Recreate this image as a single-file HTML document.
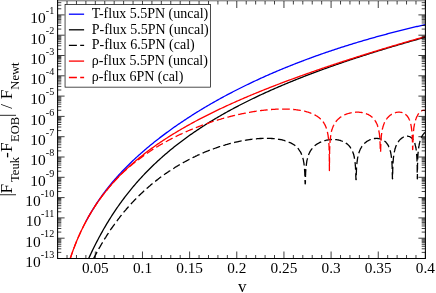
<!DOCTYPE html>
<html><head><meta charset="utf-8"><title>flux</title>
<style>html,body{margin:0;padding:0;background:#fff;width:436px;height:293px;overflow:hidden}</style></head>
<body>
<svg width="436" height="293" viewBox="0 0 436 293" style="position:absolute;left:0;top:0;will-change:transform;opacity:0.999;font-family:'Liberation Serif',serif">
<rect width="436" height="293" fill="#fff"/>
<defs><clipPath id="c"><rect x="57.60" y="1.00" width="367.80" height="257.50"/></clipPath></defs>
<g clip-path="url(#c)" fill="none" stroke-width="1.3" stroke-linejoin="round">
<path d="M86.00,221.35 L87.00,219.50 L88.00,217.69 L89.00,215.92 L90.00,214.19 L91.00,212.49 L92.00,210.82 L93.00,209.19 L94.00,207.58 L95.00,206.00 L96.00,204.45 L97.00,202.92 L98.00,201.42 L99.00,199.94 L100.00,198.48 L101.00,197.05 L102.00,195.63 L103.00,194.24 L104.00,192.87 L105.00,191.52 L106.00,190.20 L107.00,188.89 L108.00,187.61 L109.00,186.36 L110.00,185.13 L111.00,183.91 L112.00,182.72 L113.00,181.54 L114.00,180.38 L115.00,179.23 L116.00,178.09 L117.00,176.97 L118.00,175.86 L119.00,174.77 L120.00,173.68 L121.00,172.61 L122.00,171.55 L123.00,170.51 L124.00,169.47 L125.00,168.44 L126.00,167.43 L127.00,166.42 L128.00,165.43 L129.00,164.44 L130.00,163.46 L131.00,162.50 L132.00,161.54 L133.00,160.59 L134.00,159.65 L135.00,158.71 L136.00,157.79 L137.00,156.87 L138.00,155.96 L139.00,155.06 L140.00,154.17 L141.00,153.28 L142.00,152.40 L143.00,151.53 L144.00,150.66 L145.00,149.80 L146.00,148.95 L147.00,148.10 L148.00,147.26 L149.00,146.43 L150.00,145.60 L151.00,144.78 L152.00,143.96 L153.00,143.16 L154.00,142.35 L155.00,141.55 L156.00,140.76 L157.00,139.97 L158.00,139.19 L159.00,138.41 L160.00,137.64 L161.00,136.88 L162.00,136.11 L163.00,135.36 L164.00,134.61 L165.00,133.86 L166.00,133.12 L167.00,132.38 L168.00,131.65 L169.00,130.92 L170.00,130.19 L171.00,129.47 L172.00,128.76 L173.00,128.05 L174.00,127.34 L175.00,126.64 L176.00,125.94 L177.00,125.25 L178.00,124.56 L179.00,123.87 L180.00,123.19 L181.00,122.51 L182.00,121.84 L183.00,121.17 L184.00,120.50 L185.00,119.84 L186.00,119.18 L187.00,118.52 L188.00,117.87 L189.00,117.22 L190.00,116.58 L191.00,115.94 L192.00,115.30 L193.00,114.67 L194.00,114.03 L195.00,113.41 L196.00,112.78 L197.00,112.16 L198.00,111.55 L199.00,110.93 L200.00,110.32 L201.00,109.71 L202.00,109.11 L203.00,108.51 L204.00,107.91 L205.00,107.31 L206.00,106.72 L207.00,106.13 L208.00,105.54 L209.00,104.96 L210.00,104.38 L211.00,103.80 L212.00,103.23 L213.00,102.66 L214.00,102.09 L215.00,101.52 L216.00,100.96 L217.00,100.40 L218.00,99.84 L219.00,99.29 L220.00,98.73 L221.00,98.18 L222.00,97.64 L223.00,97.09 L224.00,96.55 L225.00,96.01 L226.00,95.48 L227.00,94.94 L228.00,94.41 L229.00,93.88 L230.00,93.36 L231.00,92.83 L232.00,92.31 L233.00,91.79 L234.00,91.28 L235.00,90.76 L236.00,90.25 L237.00,89.74 L238.00,89.24 L239.00,88.73 L240.00,88.23 L241.00,87.73 L242.00,87.23 L243.00,86.74 L244.00,86.24 L245.00,85.75 L246.00,85.27 L247.00,84.78 L248.00,84.30 L249.00,83.81 L250.00,83.34 L251.00,82.86 L252.00,82.38 L253.00,81.91 L254.00,81.44 L255.00,80.97 L256.00,80.51 L257.00,80.04 L258.00,79.58 L259.00,79.12 L260.00,78.66 L261.00,78.21 L262.00,77.75 L263.00,77.30 L264.00,76.85 L265.00,76.40 L266.00,75.96 L267.00,75.51 L268.00,75.07 L269.00,74.63 L270.00,74.19 L271.00,73.76 L272.00,73.32 L273.00,72.89 L274.00,72.46 L275.00,72.03 L276.00,71.61 L277.00,71.18 L278.00,70.76 L279.00,70.34 L280.00,69.92 L281.00,69.50 L282.00,69.09 L283.00,68.67 L284.00,68.26 L285.00,67.85 L286.00,67.44 L287.00,67.04 L288.00,66.63 L289.00,66.23 L290.00,65.83 L291.00,65.43 L292.00,65.03 L293.00,64.63 L294.00,64.24 L295.00,63.85 L296.00,63.46 L297.00,63.07 L298.00,62.68 L299.00,62.29 L300.00,61.91 L301.00,61.53 L302.00,61.14 L303.00,60.77 L304.00,60.39 L305.00,60.01 L306.00,59.64 L307.00,59.26 L308.00,58.89 L309.00,58.52 L310.00,58.16 L311.00,57.79 L312.00,57.42 L313.00,57.06 L314.00,56.70 L315.00,56.34 L316.00,55.98 L317.00,55.62 L318.00,55.27 L319.00,54.91 L320.00,54.56 L321.00,54.21 L322.00,53.86 L323.00,53.51 L324.00,53.16 L325.00,52.82 L326.00,52.47 L327.00,52.13 L328.00,51.79 L329.00,51.45 L330.00,51.11 L331.00,50.77 L332.00,50.44 L333.00,50.11 L334.00,49.77 L335.00,49.44 L336.00,49.11 L337.00,48.78 L338.00,48.46 L339.00,48.13 L340.00,47.81 L341.00,47.48 L342.00,47.16 L343.00,46.84 L344.00,46.52 L345.00,46.21 L346.00,45.89 L347.00,45.57 L348.00,45.26 L349.00,44.95 L350.00,44.64 L351.00,44.33 L352.00,44.02 L353.00,43.71 L354.00,43.41 L355.00,43.10 L356.00,42.80 L357.00,42.50 L358.00,42.20 L359.00,41.90 L360.00,41.60 L361.00,41.30 L362.00,41.01 L363.00,40.71 L364.00,40.42 L365.00,40.13 L366.00,39.83 L367.00,39.54 L368.00,39.26 L369.00,38.97 L370.00,38.68 L371.00,38.40 L372.00,38.11 L373.00,37.83 L374.00,37.55 L375.00,37.27 L376.00,36.99 L377.00,36.71 L378.00,36.44 L379.00,36.16 L380.00,35.89 L381.00,35.61 L382.00,35.34 L383.00,35.07 L384.00,34.80 L385.00,34.53 L386.00,34.26 L387.00,34.00 L388.00,33.73 L389.00,33.47 L390.00,33.20 L391.00,32.94 L392.00,32.68 L393.00,32.42 L394.00,32.16 L395.00,31.90 L396.00,31.65 L397.00,31.39 L398.00,31.14 L399.00,30.88 L400.00,30.63 L401.00,30.38 L402.00,30.13 L403.00,29.88 L404.00,29.63 L405.00,29.38 L406.00,29.14 L407.00,28.89 L408.00,28.65 L409.00,28.41 L410.00,28.16 L411.00,27.92 L412.00,27.68 L413.00,27.44 L414.00,27.21 L415.00,26.97 L416.00,26.73 L417.00,26.50 L418.00,26.26 L419.00,26.03 L420.00,25.80 L421.00,25.57 L422.00,25.34 L423.00,25.11 L424.00,24.88 L425.00,24.65" stroke="#0000ff"/>
<path d="M60.00,329.16 L61.00,327.75 L62.00,325.95 L63.00,323.85 L64.00,321.55 L65.00,319.09 L66.00,316.51 L67.00,313.86 L68.00,311.15 L69.00,308.41 L70.00,305.65 L71.00,302.89 L72.00,300.14 L73.00,297.40 L74.00,294.67 L75.00,291.98 L76.00,289.31 L77.00,286.67 L78.00,284.06 L79.00,281.49 L80.00,278.95 L81.00,276.46 L82.00,273.99 L83.00,271.57 L84.00,269.18 L85.00,266.83 L86.00,264.51 L87.00,262.23 L88.00,259.99 L89.00,257.79 L90.00,255.61 L91.00,253.48 L92.00,251.37 L93.00,249.30 L94.00,247.27 L95.00,245.26 L96.00,243.29 L97.00,241.34 L98.00,239.43 L99.00,237.54 L100.00,235.69 L101.00,233.86 L102.00,232.06 L103.00,230.28 L104.00,228.53 L105.00,226.81 L106.00,225.11 L107.00,223.44 L108.00,221.79 L109.00,220.16 L110.00,218.56 L111.00,216.98 L112.00,215.42 L113.00,213.88 L114.00,212.37 L115.00,210.87 L116.00,209.39 L117.00,207.93 L118.00,206.50 L119.00,205.08 L120.00,203.67 L121.00,202.29 L122.00,200.92 L123.00,199.57 L124.00,198.24 L125.00,196.93 L126.00,195.63 L127.00,194.34 L128.00,193.07 L129.00,191.82 L130.00,190.58 L131.00,189.35 L132.00,188.14 L133.00,186.95 L134.00,185.76 L135.00,184.59 L136.00,183.44 L137.00,182.29 L138.00,181.16 L139.00,180.04 L140.00,178.93 L141.00,177.84 L142.00,176.75 L143.00,175.68 L144.00,174.62 L145.00,173.57 L146.00,172.53 L147.00,171.50 L148.00,170.48 L149.00,169.47 L150.00,168.48 L151.00,167.49 L152.00,166.51 L153.00,165.54 L154.00,164.58 L155.00,163.63 L156.00,162.69 L157.00,161.75 L158.00,160.83 L159.00,159.91 L160.00,159.01 L161.00,158.11 L162.00,157.22 L163.00,156.33 L164.00,155.46 L165.00,154.59 L166.00,153.73 L167.00,152.88 L168.00,152.03 L169.00,151.20 L170.00,150.37 L171.00,149.54 L172.00,148.73 L173.00,147.92 L174.00,147.11 L175.00,146.32 L176.00,145.53 L177.00,144.74 L178.00,143.96 L179.00,143.19 L180.00,142.43 L181.00,141.67 L182.00,140.92 L183.00,140.17 L184.00,139.43 L185.00,138.69 L186.00,137.96 L187.00,137.24 L188.00,136.52 L189.00,135.80 L190.00,135.09 L191.00,134.39 L192.00,133.69 L193.00,133.00 L194.00,132.31 L195.00,131.63 L196.00,130.95 L197.00,130.27 L198.00,129.60 L199.00,128.94 L200.00,128.28 L201.00,127.62 L202.00,126.97 L203.00,126.32 L204.00,125.68 L205.00,125.04 L206.00,124.41 L207.00,123.78 L208.00,123.15 L209.00,122.53 L210.00,121.92 L211.00,121.30 L212.00,120.69 L213.00,120.09 L214.00,119.48 L215.00,118.89 L216.00,118.29 L217.00,117.70 L218.00,117.11 L219.00,116.53 L220.00,115.95 L221.00,115.37 L222.00,114.80 L223.00,114.23 L224.00,113.66 L225.00,113.10 L226.00,112.54 L227.00,111.98 L228.00,111.43 L229.00,110.88 L230.00,110.33 L231.00,109.79 L232.00,109.25 L233.00,108.71 L234.00,108.17 L235.00,107.64 L236.00,107.11 L237.00,106.59 L238.00,106.06 L239.00,105.54 L240.00,105.02 L241.00,104.51 L242.00,104.00 L243.00,103.49 L244.00,102.98 L245.00,102.48 L246.00,101.97 L247.00,101.47 L248.00,100.98 L249.00,100.48 L250.00,99.99 L251.00,99.50 L252.00,99.02 L253.00,98.53 L254.00,98.05 L255.00,97.57 L256.00,97.09 L257.00,96.62 L258.00,96.14 L259.00,95.67 L260.00,95.21 L261.00,94.74 L262.00,94.28 L263.00,93.81 L264.00,93.35 L265.00,92.90 L266.00,92.44 L267.00,91.99 L268.00,91.54 L269.00,91.09 L270.00,90.64 L271.00,90.20 L272.00,89.75 L273.00,89.31 L274.00,88.87 L275.00,88.44 L276.00,88.00 L277.00,87.57 L278.00,87.13 L279.00,86.70 L280.00,86.28 L281.00,85.85 L282.00,85.43 L283.00,85.00 L284.00,84.58 L285.00,84.16 L286.00,83.75 L287.00,83.33 L288.00,82.92 L289.00,82.50 L290.00,82.09 L291.00,81.68 L292.00,81.28 L293.00,80.87 L294.00,80.47 L295.00,80.06 L296.00,79.66 L297.00,79.26 L298.00,78.86 L299.00,78.47 L300.00,78.07 L301.00,77.68 L302.00,77.29 L303.00,76.90 L304.00,76.51 L305.00,76.12 L306.00,75.73 L307.00,75.35 L308.00,74.97 L309.00,74.58 L310.00,74.20 L311.00,73.82 L312.00,73.45 L313.00,73.07 L314.00,72.69 L315.00,72.32 L316.00,71.95 L317.00,71.58 L318.00,71.21 L319.00,70.84 L320.00,70.47 L321.00,70.10 L322.00,69.74 L323.00,69.38 L324.00,69.01 L325.00,68.65 L326.00,68.29 L327.00,67.93 L328.00,67.57 L329.00,67.22 L330.00,66.86 L331.00,66.51 L332.00,66.15 L333.00,65.80 L334.00,65.45 L335.00,65.10 L336.00,64.75 L337.00,64.41 L338.00,64.06 L339.00,63.71 L340.00,63.37 L341.00,63.03 L342.00,62.68 L343.00,62.34 L344.00,62.00 L345.00,61.66 L346.00,61.33 L347.00,60.99 L348.00,60.65 L349.00,60.32 L350.00,59.98 L351.00,59.65 L352.00,59.32 L353.00,58.99 L354.00,58.66 L355.00,58.33 L356.00,58.00 L357.00,57.67 L358.00,57.34 L359.00,57.02 L360.00,56.69 L361.00,56.37 L362.00,56.05 L363.00,55.73 L364.00,55.40 L365.00,55.08 L366.00,54.77 L367.00,54.45 L368.00,54.13 L369.00,53.81 L370.00,53.50 L371.00,53.18 L372.00,52.87 L373.00,52.55 L374.00,52.24 L375.00,51.93 L376.00,51.62 L377.00,51.31 L378.00,51.00 L379.00,50.69 L380.00,50.38 L381.00,50.08 L382.00,49.77 L383.00,49.46 L384.00,49.16 L385.00,48.85 L386.00,48.55 L387.00,48.25 L388.00,47.95 L389.00,47.65 L390.00,47.35 L391.00,47.05 L392.00,46.75 L393.00,46.45 L394.00,46.15 L395.00,45.86 L396.00,45.56 L397.00,45.26 L398.00,44.97 L399.00,44.68 L400.00,44.38 L401.00,44.09 L402.00,43.80 L403.00,43.51 L404.00,43.22 L405.00,42.93 L406.00,42.64 L407.00,42.35 L408.00,42.06 L409.00,41.77 L410.00,41.49 L411.00,41.20 L412.00,40.92 L413.00,40.63 L414.00,40.35 L415.00,40.06 L416.00,39.78 L417.00,39.50 L418.00,39.22 L419.00,38.93 L420.00,38.65 L421.00,38.37 L422.00,38.09 L423.00,37.82 L424.00,37.54 L425.00,37.26" stroke="#000"/>
<path d="M93.7,258.5 94.0,257.7 94.5,257.0 94.8,256.2 95.2,255.4 95.7,254.7 96.0,253.9 96.5,253.2 96.8,252.4 97.1,252.0M98.7,249.0 99.2,248.2 99.6,247.4 100.1,246.6 100.5,245.9 100.9,245.1 101.4,244.3 101.8,243.6 102.3,242.8 102.6,242.4M104.3,239.4 104.8,238.7 105.2,238.0 105.7,237.3 106.2,236.5 106.7,235.7 107.2,234.9 107.7,234.1 108.2,233.4 108.4,233.0M110.3,230.2 110.8,229.4 111.3,228.7 111.8,228.0 112.3,227.3 112.8,226.6 113.3,225.9 113.9,225.1 114.4,224.3 114.7,223.9M116.8,221.1 117.4,220.3 117.9,219.6 118.5,218.8 119.1,218.1 119.6,217.4 120.2,216.6 120.8,215.9 121.4,215.2 121.5,215.0M123.6,212.4 124.2,211.7 124.9,210.9 125.6,210.1 126.2,209.3 126.9,208.5 127.6,207.8 128.2,207.0 128.6,206.6M130.9,204.1 131.6,203.3 132.2,202.6 132.9,201.9 133.6,201.2 134.2,200.5 134.9,199.8 135.6,199.1 136.2,198.5M138.6,196.1 139.2,195.5 139.9,194.8 140.6,194.2 141.2,193.5 141.9,192.9 142.6,192.3 143.2,191.7 143.9,191.0 144.2,190.8M146.7,188.6 147.3,188.0 148.0,187.4 148.7,186.8 149.3,186.2 150.0,185.7 150.7,185.1 151.3,184.6 152.0,184.0 152.5,183.6M155.2,181.4 155.8,180.9 156.5,180.4 157.2,179.9 157.8,179.4 158.5,178.8 159.2,178.3 159.8,177.8 160.5,177.3 161.2,176.8 161.2,176.8M164.0,174.8 164.7,174.3 165.3,173.8 166.0,173.4 166.7,172.9 167.3,172.5 168.0,172.0 168.7,171.6 169.3,171.1 170.0,170.7 170.3,170.5M173.2,168.6 173.9,168.2 174.6,167.7 175.2,167.3 175.9,166.9 176.6,166.5 177.2,166.1 177.9,165.7 178.6,165.3 179.2,164.9 179.8,164.6M182.8,162.9 183.4,162.5 184.1,162.2 184.8,161.8 185.4,161.4 186.1,161.1 186.8,160.7 187.4,160.4 188.1,160.0 188.8,159.7 189.4,159.3 189.5,159.3M192.5,157.7 193.2,157.4 193.8,157.1 194.5,156.8 195.2,156.5 195.8,156.1 196.5,155.8 197.2,155.5 197.8,155.2 198.5,154.9 199.2,154.6 199.5,154.4M202.6,153.1 203.2,152.8 203.9,152.5 204.6,152.2 205.2,152.0 205.9,151.7 206.6,151.4 207.2,151.1 207.9,150.9 208.6,150.6 209.2,150.4 209.8,150.2M212.8,149.0 213.5,148.8 214.2,148.5 214.8,148.3 215.5,148.0 216.2,147.8 216.8,147.6 217.5,147.4 218.2,147.1 218.8,146.9 219.5,146.7 220.2,146.5M223.3,145.5 224.0,145.3 224.7,145.1 225.3,144.9 226.0,144.7 226.7,144.5 227.3,144.3 228.0,144.1 228.7,143.9 229.3,143.7 230.0,143.6 230.7,143.4 230.8,143.4M234.1,142.5 234.8,142.4 235.4,142.2 236.1,142.1 236.8,141.9 237.4,141.8 238.1,141.6 238.8,141.5 239.4,141.3 240.1,141.2 240.8,141.1 241.4,140.9 241.6,140.9M244.9,140.3 245.6,140.2 246.2,140.1 246.9,140.0 247.6,139.9 248.2,139.8 248.9,139.7 249.6,139.6 250.2,139.5 250.9,139.4 251.6,139.3 252.2,139.2 252.5,139.2M255.9,138.8 256.6,138.8 257.2,138.7 257.9,138.7 258.6,138.6 259.2,138.6 259.9,138.5 260.6,138.5 261.2,138.5 261.9,138.4 262.6,138.4 263.2,138.4 263.6,138.4M266.9,138.3 267.6,138.3 268.2,138.4 268.9,138.4 269.6,138.4 270.2,138.4 270.9,138.4 271.6,138.5 272.2,138.5 272.9,138.6 273.6,138.6 274.2,138.7 274.7,138.7M278.0,139.1 278.7,139.3 279.3,139.4 280.0,139.5 280.7,139.6 281.3,139.7 282.0,139.9 282.7,140.0 283.3,140.2 284.0,140.4 284.7,140.6 285.3,140.8 285.5,140.8M288.7,142.0 289.3,142.3 290.0,142.6 290.7,142.9 291.3,143.2 292.0,143.6 292.7,144.0 293.3,144.4 294.0,144.8 294.7,145.3 295.3,145.8M297.8,148.1 298.4,148.8 298.9,149.6 299.4,150.3 299.9,151.1 300.4,151.8 300.8,152.6 301.2,153.4 301.5,154.2 301.7,154.7M302.8,157.8 303.0,158.6 303.2,159.3 303.4,160.1 303.5,160.8 303.6,161.6 303.8,162.4 303.9,163.2 304.0,163.9 304.1,164.7 304.2,165.5M304.5,168.8 304.6,169.6 304.6,170.4 304.7,171.2 304.7,172.0 304.8,172.8 304.8,173.6 304.8,174.4 304.9,175.2 304.9,176.0 304.9,176.5M305.0,179.9 305.0,180.7 305.0,181.4 305.1,182.2 305.1,183.0 305.1,183.8 305.2,183.8 305.2,183.8 305.2,183.8 305.3,183.8 305.3,183.4 305.4,182.6 305.4,181.8 305.4,181.0 305.4,180.2M305.5,176.9 305.5,176.2 305.5,175.4 305.6,174.6 305.6,173.8 305.6,173.0 305.7,172.2 305.7,171.4 305.8,170.6 305.8,169.8 305.9,169.2M306.2,165.9 306.3,165.1 306.4,164.4 306.5,163.6 306.6,162.9 306.7,162.1 306.8,161.4 306.9,160.6 307.1,159.9 307.3,159.2 307.5,158.4 307.5,158.2M308.5,155.0 308.8,154.2 309.1,153.5 309.5,152.7 309.9,151.9 310.3,151.1 310.8,150.4 311.3,149.6 311.9,148.9 312.3,148.3M314.7,145.9 315.3,145.3 316.0,144.8 316.7,144.3 317.3,143.9 318.0,143.5 318.7,143.1 319.3,142.7 320.0,142.4 320.7,142.1 321.2,141.9M324.3,140.7 325.0,140.6 325.7,140.4 326.3,140.2 327.0,140.1 327.7,140.0 328.3,139.8 329.0,139.8 329.7,139.7 330.3,139.6 331.0,139.6 331.7,139.5 331.9,139.5M335.2,139.6 335.9,139.6 336.6,139.7 337.2,139.8 337.9,139.9 338.6,140.0 339.2,140.2 339.9,140.4 340.6,140.5 341.2,140.8 341.9,141.0 342.6,141.3 342.8,141.3M345.8,142.9 346.4,143.4 347.1,143.9 347.8,144.5 348.4,145.1 349.1,145.8 349.7,146.5 350.3,147.3 350.8,148.1 351.0,148.4M352.5,151.4 352.8,152.1 353.1,152.9 353.3,153.6 353.6,154.3 353.8,155.0 354.0,155.8 354.1,156.5 354.3,157.3 354.4,158.1 354.6,158.8M355.0,162.2 355.1,162.9 355.2,163.7 355.3,164.5 355.3,165.3 355.4,166.1 355.5,166.9 355.5,167.6 355.5,168.4 355.6,169.2 355.6,169.8M355.8,173.2 355.8,174.0 355.8,174.8 355.8,175.6 355.8,176.4 355.9,177.2 355.9,178.0 355.9,178.8 355.9,179.5 356.0,179.6 356.0,179.6 356.1,179.6 356.1,179.6 356.2,179.4 356.2,178.6 356.2,178.5M356.3,175.2 356.3,174.4 356.3,173.6 356.3,172.8 356.4,172.0 356.4,171.2 356.4,170.4 356.5,169.7 356.5,168.9 356.5,168.2 356.6,167.5M356.8,164.1 356.9,163.4 357.0,162.6 357.1,161.9 357.2,161.1 357.3,160.4 357.4,159.6 357.5,158.9 357.6,158.2 357.7,157.5 357.9,156.7 357.9,156.5M358.8,153.2 359.0,152.5 359.3,151.7 359.6,150.9 359.9,150.1 360.3,149.3 360.6,148.6 361.1,147.8 361.5,147.1 362.0,146.3 362.1,146.2M364.2,143.6 364.9,143.0 365.6,142.4 366.2,141.9 366.9,141.4 367.6,141.0 368.2,140.6 368.9,140.3 369.6,139.9 370.2,139.7 370.7,139.5M373.9,138.6 374.6,138.5 375.2,138.5 375.9,138.4 376.6,138.4 377.2,138.4 377.9,138.5 378.6,138.6 379.2,138.7 379.9,138.8 380.6,139.0 381.2,139.2 381.5,139.3M384.4,141.0 385.1,141.5 385.8,142.1 386.4,142.8 387.0,143.6 387.5,144.3 387.9,145.0 388.4,145.7 388.7,146.5 389.0,147.1M390.1,150.2 390.3,151.0 390.5,151.7 390.7,152.5 390.8,153.3 391.0,154.1 391.1,154.8 391.2,155.5 391.3,156.3 391.4,157.1 391.5,157.8M391.8,161.1 391.9,161.9 391.9,162.7 392.0,163.5 392.0,164.3 392.1,165.1 392.1,165.9 392.1,166.7 392.2,167.5 392.2,168.3 392.2,168.9M392.3,172.2 392.3,173.0 392.3,173.8 392.3,174.6 392.4,175.4 392.4,176.2 392.4,177.0 392.4,177.8 392.4,178.6 392.5,178.8 392.5,178.8 392.5,178.8 392.5,178.8 392.6,178.3 392.6,177.9M392.6,174.5 392.6,173.7 392.7,172.9 392.7,172.1 392.7,171.3 392.7,170.5 392.7,169.8 392.8,169.0 392.8,168.3 392.8,167.5 392.8,166.8M393.0,163.4 393.0,162.6 393.1,161.8 393.2,161.1 393.2,160.3 393.3,159.6 393.3,158.8 393.4,158.1 393.5,157.4 393.6,156.6 393.7,155.8 393.7,155.7M394.2,152.4 394.4,151.6 394.6,150.9 394.8,150.1 394.9,149.3 395.2,148.6 395.4,147.8 395.7,147.1 395.9,146.3 396.2,145.6 396.5,145.1M398.1,142.1 398.6,141.4 399.1,140.6 399.8,139.9 400.4,139.3 401.1,138.7 401.8,138.1 402.4,137.7 403.1,137.3 403.8,136.9M407.0,136.2 407.7,136.2 408.3,136.3 409.0,136.5 409.7,136.7 410.3,137.0 411.0,137.5 411.7,138.0 412.3,138.7 412.9,139.5 413.2,140.0M414.7,143.0 414.9,143.8 415.1,144.5 415.3,145.3 415.5,146.1 415.7,146.8 415.8,147.5 416.0,148.3 416.1,149.0 416.2,149.8 416.3,150.5M416.6,153.9 416.7,154.7 416.7,155.5 416.8,156.2 416.8,157.0 416.9,157.8 416.9,158.6 417.0,159.4 417.0,160.2 417.0,160.9 417.0,161.6M417.1,165.0 417.2,165.8 417.2,166.6 417.2,167.4 417.2,168.2 417.2,169.0 417.2,169.8 417.2,170.5 417.2,171.3 417.2,172.1 417.3,172.7M417.3,176.1 417.3,176.8 417.3,177.6 417.3,178.4 417.3,178.8 417.3,178.8 417.4,178.8 417.4,178.1 417.4,177.3 417.4,176.5 417.4,175.7 417.4,174.9 417.4,174.1 417.4,173.9M417.4,170.6 417.4,169.8 417.5,169.0 417.5,168.2 417.5,167.4 417.5,166.7 417.5,166.0 417.5,165.2 417.5,164.4 417.6,163.7 417.6,162.9 417.6,162.8M417.7,159.5 417.7,158.7 417.8,158.0 417.8,157.2 417.8,156.5 417.9,155.7 417.9,154.9 418.0,154.2 418.0,153.5 418.1,152.8 418.2,152.0 418.2,151.7M418.6,148.4 418.7,147.7 418.8,146.9 418.9,146.1 419.1,145.4 419.2,144.6 419.4,143.8 419.5,143.1 419.7,142.4 419.9,141.6 420.1,140.9M421.3,137.7 421.6,136.9 422.1,136.2 422.5,135.4 423.0,134.6 423.6,133.9 424.2,133.1 424.9,132.6 425.0,132.5" stroke="#000"/>
<path d="M60.00,297.51 L61.00,292.80 L62.00,288.33 L63.00,284.09 L64.00,280.05 L65.00,276.19 L66.00,272.51 L67.00,268.98 L68.00,265.60 L69.00,262.36 L70.00,259.25 L71.00,256.25 L72.00,253.36 L73.00,250.58 L74.00,247.89 L75.00,245.29 L76.00,242.78 L77.00,240.34 L78.00,237.98 L79.00,235.69 L80.00,233.47 L81.00,231.31 L82.00,229.21 L83.00,227.17 L84.00,225.18 L85.00,223.24 L86.00,221.35 L87.00,219.51 L88.00,217.71 L89.00,215.95 L90.00,214.23 L91.00,212.56 L92.00,210.91 L93.00,209.31 L94.00,207.73 L95.00,206.19 L96.00,204.68 L97.00,203.20 L98.00,201.75 L99.00,200.33 L100.00,198.93 L101.00,197.56 L102.00,196.21 L103.00,194.89 L104.00,193.59 L105.00,192.31 L106.00,191.05 L107.00,189.81 L108.00,188.60 L109.00,187.40 L110.00,186.22 L111.00,185.06 L112.00,183.91 L113.00,182.79 L114.00,181.68 L115.00,180.58 L116.00,179.50 L117.00,178.44 L118.00,177.39 L119.00,176.35 L120.00,175.33 L121.00,174.32 L122.00,173.33 L123.00,172.35 L124.00,171.38 L125.00,170.42 L126.00,169.47 L127.00,168.54 L128.00,167.61 L129.00,166.70 L130.00,165.79 L131.00,164.90 L132.00,164.02 L133.00,163.14 L134.00,162.28 L135.00,161.43 L136.00,160.58 L137.00,159.74 L138.00,158.92 L139.00,158.10 L140.00,157.28 L141.00,156.48 L142.00,155.69 L143.00,154.90 L144.00,154.12 L145.00,153.34 L146.00,152.58 L147.00,151.82 L148.00,151.07 L149.00,150.32 L150.00,149.58 L151.00,148.85 L152.00,148.13 L153.00,147.41 L154.00,146.69 L155.00,145.99 L156.00,145.29 L157.00,144.59 L158.00,143.90 L159.00,143.22 L160.00,142.54 L161.00,141.86 L162.00,141.19 L163.00,140.53 L164.00,139.87 L165.00,139.22 L166.00,138.57 L167.00,137.93 L168.00,137.29 L169.00,136.65 L170.00,136.02 L171.00,135.40 L172.00,134.78 L173.00,134.16 L174.00,133.55 L175.00,132.94 L176.00,132.33 L177.00,131.73 L178.00,131.14 L179.00,130.54 L180.00,129.96 L181.00,129.37 L182.00,128.79 L183.00,128.21 L184.00,127.64 L185.00,127.07 L186.00,126.50 L187.00,125.94 L188.00,125.37 L189.00,124.82 L190.00,124.26 L191.00,123.71 L192.00,123.17 L193.00,122.62 L194.00,122.08 L195.00,121.54 L196.00,121.01 L197.00,120.47 L198.00,119.94 L199.00,119.42 L200.00,118.89 L201.00,118.37 L202.00,117.86 L203.00,117.34 L204.00,116.83 L205.00,116.32 L206.00,115.81 L207.00,115.30 L208.00,114.80 L209.00,114.30 L210.00,113.80 L211.00,113.31 L212.00,112.82 L213.00,112.32 L214.00,111.84 L215.00,111.35 L216.00,110.87 L217.00,110.39 L218.00,109.91 L219.00,109.43 L220.00,108.96 L221.00,108.48 L222.00,108.01 L223.00,107.54 L224.00,107.08 L225.00,106.61 L226.00,106.15 L227.00,105.69 L228.00,105.23 L229.00,104.77 L230.00,104.32 L231.00,103.87 L232.00,103.42 L233.00,102.97 L234.00,102.52 L235.00,102.07 L236.00,101.63 L237.00,101.19 L238.00,100.75 L239.00,100.31 L240.00,99.87 L241.00,99.44 L242.00,99.01 L243.00,98.57 L244.00,98.14 L245.00,97.72 L246.00,97.29 L247.00,96.86 L248.00,96.44 L249.00,96.02 L250.00,95.60 L251.00,95.18 L252.00,94.76 L253.00,94.34 L254.00,93.93 L255.00,93.52 L256.00,93.10 L257.00,92.69 L258.00,92.28 L259.00,91.88 L260.00,91.47 L261.00,91.06 L262.00,90.66 L263.00,90.26 L264.00,89.86 L265.00,89.46 L266.00,89.06 L267.00,88.66 L268.00,88.27 L269.00,87.87 L270.00,87.48 L271.00,87.09 L272.00,86.70 L273.00,86.31 L274.00,85.92 L275.00,85.53 L276.00,85.15 L277.00,84.76 L278.00,84.38 L279.00,83.99 L280.00,83.61 L281.00,83.23 L282.00,82.85 L283.00,82.47 L284.00,82.10 L285.00,81.72 L286.00,81.35 L287.00,80.97 L288.00,80.60 L289.00,80.23 L290.00,79.86 L291.00,79.49 L292.00,79.12 L293.00,78.75 L294.00,78.39 L295.00,78.02 L296.00,77.65 L297.00,77.29 L298.00,76.93 L299.00,76.57 L300.00,76.21 L301.00,75.85 L302.00,75.49 L303.00,75.13 L304.00,74.77 L305.00,74.42 L306.00,74.06 L307.00,73.71 L308.00,73.35 L309.00,73.00 L310.00,72.65 L311.00,72.30 L312.00,71.95 L313.00,71.60 L314.00,71.25 L315.00,70.90 L316.00,70.56 L317.00,70.21 L318.00,69.86 L319.00,69.52 L320.00,69.18 L321.00,68.83 L322.00,68.49 L323.00,68.15 L324.00,67.81 L325.00,67.47 L326.00,67.13 L327.00,66.80 L328.00,66.46 L329.00,66.12 L330.00,65.79 L331.00,65.45 L332.00,65.12 L333.00,64.78 L334.00,64.45 L335.00,64.12 L336.00,63.79 L337.00,63.46 L338.00,63.13 L339.00,62.80 L340.00,62.47 L341.00,62.14 L342.00,61.81 L343.00,61.49 L344.00,61.16 L345.00,60.84 L346.00,60.51 L347.00,60.19 L348.00,59.87 L349.00,59.54 L350.00,59.22 L351.00,58.90 L352.00,58.58 L353.00,58.26 L354.00,57.94 L355.00,57.62 L356.00,57.30 L357.00,56.99 L358.00,56.67 L359.00,56.35 L360.00,56.04 L361.00,55.72 L362.00,55.41 L363.00,55.10 L364.00,54.78 L365.00,54.47 L366.00,54.16 L367.00,53.85 L368.00,53.54 L369.00,53.23 L370.00,52.92 L371.00,52.61 L372.00,52.30 L373.00,51.99 L374.00,51.68 L375.00,51.38 L376.00,51.07 L377.00,50.76 L378.00,50.46 L379.00,50.15 L380.00,49.85 L381.00,49.55 L382.00,49.24 L383.00,48.94 L384.00,48.64 L385.00,48.34 L386.00,48.03 L387.00,47.73 L388.00,47.43 L389.00,47.13 L390.00,46.84 L391.00,46.54 L392.00,46.24 L393.00,45.94 L394.00,45.64 L395.00,45.35 L396.00,45.05 L397.00,44.76 L398.00,44.46 L399.00,44.17 L400.00,43.87 L401.00,43.58 L402.00,43.28 L403.00,42.99 L404.00,42.70 L405.00,42.41 L406.00,42.12 L407.00,41.82 L408.00,41.53 L409.00,41.24 L410.00,40.95 L411.00,40.66 L412.00,40.38 L413.00,40.09 L414.00,39.80 L415.00,39.51 L416.00,39.23 L417.00,38.94 L418.00,38.65 L419.00,38.37 L420.00,38.08 L421.00,37.80 L422.00,37.51 L423.00,37.23 L424.00,36.94 L425.00,36.66" stroke="#ff0000"/>
<path d="M70.2,258.5 70.5,257.7 70.8,256.9 71.0,256.2 71.3,255.4 71.6,254.6 71.8,253.8 72.1,253.1 72.4,252.3 72.6,251.6M73.8,248.4 74.1,247.6 74.4,246.9 74.7,246.1 75.0,245.3 75.3,244.5 75.6,243.7 75.9,243.0 76.2,242.2 76.5,241.5 76.7,241.2M78.0,238.1 78.3,237.3 78.6,236.5 79.0,235.8 79.3,235.0 79.6,234.3 80.0,233.6 80.3,232.8 80.7,232.0 81.0,231.2 81.1,231.1M82.6,228.0 83.0,227.3 83.3,226.5 83.7,225.8 84.1,225.0 84.5,224.2 84.9,223.4 85.3,222.7 85.7,221.9 86.1,221.2M87.7,218.2 88.2,217.4 88.6,216.6 89.1,215.9 89.5,215.1 89.9,214.3 90.4,213.6 90.8,212.8 91.3,212.1 91.6,211.5M93.4,208.7 93.9,207.9 94.4,207.2 94.9,206.4 95.4,205.6 95.9,204.9 96.4,204.1 96.9,203.4 97.4,202.7 97.6,202.3M99.6,199.5 100.1,198.7 100.7,197.9 101.3,197.2 101.9,196.4 102.4,195.6 103.0,194.9 103.6,194.1 104.1,193.4 104.2,193.3M106.3,190.7 106.9,190.0 107.4,189.3 108.0,188.6 108.6,187.9 109.2,187.1 109.9,186.3 110.6,185.5 111.2,184.8M113.5,182.2 114.2,181.5 114.8,180.8 115.5,180.1 116.2,179.3 116.8,178.6 117.5,177.9 118.2,177.3 118.8,176.7M121.2,174.3 121.8,173.6 122.5,173.0 123.2,172.3 123.8,171.7 124.5,171.1 125.2,170.5 125.8,169.9 126.5,169.3 126.8,169.1M129.3,166.8 130.0,166.2 130.7,165.7 131.3,165.1 132.0,164.6 132.7,164.0 133.3,163.5 134.0,163.0 134.7,162.4 135.3,161.9M138.0,159.9 138.7,159.4 139.3,158.9 140.0,158.4 140.7,157.9 141.3,157.4 142.0,156.9 142.7,156.4 143.3,155.9 144.0,155.4 144.2,155.3M146.9,153.4 147.6,152.9 148.2,152.5 148.9,152.0 149.6,151.6 150.2,151.1 150.9,150.7 151.6,150.3 152.2,149.8 152.9,149.4 153.3,149.1M156.2,147.3 156.9,146.9 157.6,146.5 158.2,146.1 158.9,145.7 159.6,145.3 160.2,144.9 160.9,144.5 161.6,144.1 162.2,143.8 162.8,143.4M165.8,141.7 166.5,141.4 167.2,141.0 167.8,140.6 168.5,140.3 169.2,139.9 169.8,139.6 170.5,139.2 171.2,138.9 171.8,138.5 172.5,138.2 172.6,138.1M175.6,136.6 176.2,136.3 176.9,136.0 177.6,135.7 178.2,135.3 178.9,135.0 179.6,134.7 180.2,134.4 180.9,134.1 181.6,133.8 182.2,133.5 182.6,133.3M185.7,131.9 186.3,131.6 187.0,131.3 187.7,131.0 188.3,130.7 189.0,130.5 189.7,130.2 190.3,129.9 191.0,129.6 191.7,129.3 192.3,129.1 192.8,128.9M195.8,127.6 196.5,127.4 197.2,127.1 197.8,126.9 198.5,126.6 199.2,126.3 199.8,126.1 200.5,125.8 201.2,125.6 201.8,125.3 202.5,125.1 203.1,124.9M206.2,123.8 206.9,123.5 207.6,123.3 208.2,123.1 208.9,122.8 209.6,122.6 210.2,122.4 210.9,122.2 211.6,121.9 212.2,121.7 212.9,121.5 213.6,121.3M216.8,120.3 217.4,120.1 218.1,119.9 218.8,119.7 219.4,119.5 220.1,119.3 220.8,119.1 221.4,118.9 222.1,118.7 222.8,118.5 223.4,118.3 224.1,118.1 224.2,118.1M227.4,117.2 228.1,117.1 228.8,116.9 229.4,116.7 230.1,116.5 230.8,116.4 231.4,116.2 232.1,116.0 232.8,115.9 233.4,115.7 234.1,115.5 234.8,115.4 234.9,115.3M238.2,114.6 238.8,114.4 239.5,114.3 240.2,114.2 240.8,114.0 241.5,113.9 242.2,113.7 242.8,113.6 243.5,113.5 244.2,113.3 244.8,113.2 245.5,113.1 245.8,113.0M249.0,112.4 249.7,112.3 250.3,112.2 251.0,112.1 251.7,111.9 252.3,111.8 253.0,111.7 253.7,111.6 254.3,111.5 255.0,111.4 255.7,111.3 256.3,111.2 256.7,111.2M260.0,110.7 260.7,110.6 261.3,110.5 262.0,110.4 262.7,110.4 263.3,110.3 264.0,110.2 264.7,110.1 265.3,110.1 266.0,110.0 266.7,109.9 267.3,109.9 267.7,109.8M271.0,109.5 271.7,109.5 272.3,109.4 273.0,109.4 273.7,109.4 274.3,109.3 275.0,109.3 275.7,109.2 276.3,109.2 277.0,109.2 277.7,109.2 278.3,109.1 278.7,109.1M282.1,109.1 282.8,109.1 283.4,109.1 284.1,109.1 284.8,109.1 285.4,109.1 286.1,109.1 286.8,109.1 287.4,109.1 288.1,109.1 288.8,109.2 289.4,109.2 289.8,109.2M293.2,109.5 293.8,109.5 294.5,109.6 295.2,109.6 295.8,109.7 296.5,109.8 297.2,109.9 297.8,110.0 298.5,110.1 299.2,110.2 299.8,110.3 300.5,110.4 300.8,110.4M304.1,111.1 304.8,111.2 305.4,111.4 306.1,111.6 306.8,111.8 307.4,112.0 308.1,112.2 308.8,112.4 309.4,112.6 310.1,112.8 310.8,113.1 311.4,113.3M314.5,114.7 315.2,115.1 315.8,115.5 316.5,115.9 317.2,116.3 317.8,116.7 318.5,117.2 319.2,117.7 319.8,118.3 320.5,118.9 320.8,119.1M323.0,121.7 323.5,122.4 324.0,123.2 324.4,123.9 324.9,124.7 325.2,125.4 325.6,126.2 325.9,126.9 326.2,127.7 326.4,128.4 326.5,128.5M327.4,131.8 327.5,132.5 327.7,133.3 327.8,134.1 328.0,134.8 328.1,135.6 328.2,136.4 328.3,137.2 328.4,138.0 328.5,138.7 328.5,139.4M328.8,142.8 328.9,143.6 328.9,144.4 329.0,145.2 329.0,146.0 329.0,146.7 329.1,147.5 329.1,148.3 329.1,149.1 329.1,149.9 329.2,150.5M329.2,153.9 329.2,154.7 329.3,155.5 329.3,156.3 329.3,157.1 329.3,157.9 329.3,158.6 329.3,159.4 329.3,160.2 329.3,161.0 329.3,161.5M329.3,165.0 329.4,165.7 329.4,166.5 329.4,167.3 329.4,168.1 329.4,168.9 329.4,169.6 329.4,170.4 329.4,170.5 329.4,170.4 329.4,169.6 329.4,168.9 329.4,168.4M329.4,165.1 329.4,164.3 329.4,163.5 329.5,162.7 329.5,161.9 329.5,161.1 329.5,160.3 329.5,159.5 329.5,158.8 329.5,158.0 329.5,157.4M329.6,154.0 329.6,153.2 329.6,152.4 329.6,151.6 329.6,150.8 329.6,150.0 329.7,149.2 329.7,148.4 329.7,147.6 329.8,146.8 329.8,146.2M330.0,142.9 330.0,142.1 330.1,141.3 330.1,140.5 330.2,139.7 330.3,138.9 330.4,138.1 330.5,137.4 330.6,136.6 330.7,135.8 330.8,135.2M331.4,131.9 331.5,131.2 331.7,130.4 332.0,129.6 332.2,129.0 332.4,128.2 332.7,127.5 333.0,126.7 333.3,126.0 333.7,125.2 333.9,124.7M335.8,121.8 336.4,121.0 337.0,120.3 337.7,119.6 338.3,119.0 339.0,118.4 339.7,117.8 340.3,117.3 341.0,116.9 341.3,116.6M344.3,115.0 345.0,114.7 345.7,114.4 346.3,114.1 347.0,113.9 347.7,113.7 348.3,113.5 349.0,113.3 349.7,113.1 350.3,113.0 351.0,112.8 351.7,112.7M355.0,112.3 355.7,112.2 356.3,112.2 357.0,112.2 357.7,112.2 358.3,112.2 359.0,112.2 359.7,112.3 360.3,112.3 361.0,112.4 361.7,112.5 362.3,112.6 362.7,112.7M365.9,113.6 366.6,113.8 367.2,114.1 367.9,114.4 368.6,114.7 369.2,115.1 369.9,115.5 370.6,115.9 371.2,116.4 371.9,117.0 372.5,117.5M374.8,120.1 375.2,120.8 375.7,121.6 376.1,122.4 376.5,123.2 376.9,123.9 377.2,124.6 377.4,125.3 377.7,126.1 377.9,126.8 378.0,127.0M378.8,130.3 378.9,131.1 379.0,131.8 379.2,132.6 379.3,133.4 379.4,134.1 379.5,134.9 379.6,135.7 379.6,136.5 379.7,137.3 379.8,137.9M380.0,141.3 380.0,142.0 380.1,142.8 380.1,143.6 380.1,144.4 380.2,145.2 380.2,146.0 380.2,146.8 380.2,147.6 380.3,148.4 380.3,149.0M380.6,151.7 380.6,150.9 380.7,150.1 380.7,149.3 380.7,148.5 380.7,147.7 380.7,147.0 380.8,146.2 380.8,145.4 380.8,144.6 380.8,144.1M381.0,140.7 381.0,140.0 381.1,139.2 381.1,138.5 381.2,137.7 381.3,137.0 381.3,136.3 381.4,135.5 381.5,134.8 381.6,134.0 381.7,133.3 381.7,133.0M382.3,129.7 382.4,128.9 382.6,128.2 382.8,127.5 383.0,126.7 383.2,126.0 383.5,125.2 383.7,124.5 384.0,123.8 384.3,123.0 384.6,122.3M386.3,119.4 386.9,118.6 387.4,117.9 388.1,117.2 388.8,116.5 389.4,115.9 390.1,115.3 390.8,114.9 391.4,114.4 391.8,114.2M394.9,112.8 395.6,112.6 396.2,112.4 396.9,112.3 397.6,112.2 398.2,112.1 398.9,112.1 399.6,112.1 400.2,112.2 400.9,112.3 401.6,112.4 402.2,112.6 402.5,112.7M405.4,114.3 406.1,114.9 406.8,115.5 407.4,116.3 407.9,117.0 408.3,117.7 408.8,118.5 409.1,119.2 409.5,120.0 409.7,120.5M410.7,123.8 410.9,124.6 411.0,125.3 411.2,126.1 411.3,126.9 411.4,127.6 411.5,128.4 411.6,129.1 411.7,129.9 411.8,130.7 411.9,131.5M412.1,134.8 412.2,135.6 412.2,136.4 412.3,137.2 412.3,138.0 412.3,138.8 412.4,139.6 412.4,140.3 412.4,141.1 412.5,141.9 412.5,142.5M412.5,145.9 412.6,146.7 412.6,147.5 412.6,148.3 412.6,149.1 412.6,149.5 412.7,149.5 412.7,149.5 412.7,149.5 412.8,149.2 412.8,148.4 412.8,147.6 412.8,146.8 412.9,146.0 412.9,145.6M412.9,142.3 413.0,141.5 413.0,140.8 413.0,140.1 413.0,139.3 413.1,138.6 413.1,137.8 413.1,137.1 413.2,136.3 413.2,135.6 413.2,134.8 413.3,134.5M413.5,131.2 413.6,130.5 413.7,129.7 413.7,129.0 413.8,128.2 413.9,127.4 414.0,126.7 414.2,126.0 414.3,125.2 414.4,124.4 414.6,123.7 414.6,123.6M415.5,120.3 415.7,119.5 416.0,118.8 416.3,118.0 416.6,117.2 417.0,116.4 417.4,115.7 417.8,114.9 418.2,114.2 418.8,113.4M421.2,111.1 421.9,110.7 422.6,110.5 423.2,110.3 423.9,110.3 424.6,110.4 425.0,110.6" stroke="#ff0000"/>
</g>
<path d="M67.03,258.50v-3.50 M67.03,1.00v3.50 M76.46,258.50v-3.50 M76.46,1.00v3.50 M85.89,258.50v-3.50 M85.89,1.00v3.50 M95.32,258.50v-7.00 M95.32,1.00v7.00 M104.75,258.50v-3.50 M104.75,1.00v3.50 M114.18,258.50v-3.50 M114.18,1.00v3.50 M123.62,258.50v-3.50 M123.62,1.00v3.50 M133.05,258.50v-3.50 M133.05,1.00v3.50 M142.48,258.50v-7.00 M142.48,1.00v7.00 M151.91,258.50v-3.50 M151.91,1.00v3.50 M161.34,258.50v-3.50 M161.34,1.00v3.50 M170.77,258.50v-3.50 M170.77,1.00v3.50 M180.20,258.50v-3.50 M180.20,1.00v3.50 M189.63,258.50v-7.00 M189.63,1.00v7.00 M199.06,258.50v-3.50 M199.06,1.00v3.50 M208.49,258.50v-3.50 M208.49,1.00v3.50 M217.92,258.50v-3.50 M217.92,1.00v3.50 M227.35,258.50v-3.50 M227.35,1.00v3.50 M236.78,258.50v-7.00 M236.78,1.00v7.00 M246.22,258.50v-3.50 M246.22,1.00v3.50 M255.65,258.50v-3.50 M255.65,1.00v3.50 M265.08,258.50v-3.50 M265.08,1.00v3.50 M274.51,258.50v-3.50 M274.51,1.00v3.50 M283.94,258.50v-7.00 M283.94,1.00v7.00 M293.37,258.50v-3.50 M293.37,1.00v3.50 M302.80,258.50v-3.50 M302.80,1.00v3.50 M312.23,258.50v-3.50 M312.23,1.00v3.50 M321.66,258.50v-3.50 M321.66,1.00v3.50 M331.09,258.50v-7.00 M331.09,1.00v7.00 M340.52,258.50v-3.50 M340.52,1.00v3.50 M349.95,258.50v-3.50 M349.95,1.00v3.50 M359.38,258.50v-3.50 M359.38,1.00v3.50 M368.82,258.50v-3.50 M368.82,1.00v3.50 M378.25,258.50v-7.00 M378.25,1.00v7.00 M387.68,258.50v-3.50 M387.68,1.00v3.50 M397.11,258.50v-3.50 M397.11,1.00v3.50 M406.54,258.50v-3.50 M406.54,1.00v3.50 M415.97,258.50v-3.50 M415.97,1.00v3.50 M425.40,258.50v-7.00 M425.40,1.00v7.00 M57.60,252.39h3.70 M425.40,252.39h-3.70 M57.60,248.81h3.70 M425.40,248.81h-3.70 M57.60,246.28h3.70 M425.40,246.28h-3.70 M57.60,244.31h3.70 M425.40,244.31h-3.70 M57.60,242.70h3.70 M425.40,242.70h-3.70 M57.60,241.34h3.70 M425.40,241.34h-3.70 M57.60,240.17h3.70 M425.40,240.17h-3.70 M57.60,239.13h3.70 M425.40,239.13h-3.70 M57.60,238.20h7.00 M425.40,238.20h-7.00 M57.60,232.09h3.70 M425.40,232.09h-3.70 M57.60,228.51h3.70 M425.40,228.51h-3.70 M57.60,225.98h3.70 M425.40,225.98h-3.70 M57.60,224.01h3.70 M425.40,224.01h-3.70 M57.60,222.40h3.70 M425.40,222.40h-3.70 M57.60,221.04h3.70 M425.40,221.04h-3.70 M57.60,219.87h3.70 M425.40,219.87h-3.70 M57.60,218.83h3.70 M425.40,218.83h-3.70 M57.60,217.90h7.00 M425.40,217.90h-7.00 M57.60,211.79h3.70 M425.40,211.79h-3.70 M57.60,208.21h3.70 M425.40,208.21h-3.70 M57.60,205.68h3.70 M425.40,205.68h-3.70 M57.60,203.71h3.70 M425.40,203.71h-3.70 M57.60,202.10h3.70 M425.40,202.10h-3.70 M57.60,200.74h3.70 M425.40,200.74h-3.70 M57.60,199.57h3.70 M425.40,199.57h-3.70 M57.60,198.53h3.70 M425.40,198.53h-3.70 M57.60,197.60h7.00 M425.40,197.60h-7.00 M57.60,191.49h3.70 M425.40,191.49h-3.70 M57.60,187.91h3.70 M425.40,187.91h-3.70 M57.60,185.38h3.70 M425.40,185.38h-3.70 M57.60,183.41h3.70 M425.40,183.41h-3.70 M57.60,181.80h3.70 M425.40,181.80h-3.70 M57.60,180.44h3.70 M425.40,180.44h-3.70 M57.60,179.27h3.70 M425.40,179.27h-3.70 M57.60,178.23h3.70 M425.40,178.23h-3.70 M57.60,177.30h7.00 M425.40,177.30h-7.00 M57.60,171.19h3.70 M425.40,171.19h-3.70 M57.60,167.61h3.70 M425.40,167.61h-3.70 M57.60,165.08h3.70 M425.40,165.08h-3.70 M57.60,163.11h3.70 M425.40,163.11h-3.70 M57.60,161.50h3.70 M425.40,161.50h-3.70 M57.60,160.14h3.70 M425.40,160.14h-3.70 M57.60,158.97h3.70 M425.40,158.97h-3.70 M57.60,157.93h3.70 M425.40,157.93h-3.70 M57.60,157.00h7.00 M425.40,157.00h-7.00 M57.60,150.89h3.70 M425.40,150.89h-3.70 M57.60,147.31h3.70 M425.40,147.31h-3.70 M57.60,144.78h3.70 M425.40,144.78h-3.70 M57.60,142.81h3.70 M425.40,142.81h-3.70 M57.60,141.20h3.70 M425.40,141.20h-3.70 M57.60,139.84h3.70 M425.40,139.84h-3.70 M57.60,138.67h3.70 M425.40,138.67h-3.70 M57.60,137.63h3.70 M425.40,137.63h-3.70 M57.60,136.70h7.00 M425.40,136.70h-7.00 M57.60,130.59h3.70 M425.40,130.59h-3.70 M57.60,127.01h3.70 M425.40,127.01h-3.70 M57.60,124.48h3.70 M425.40,124.48h-3.70 M57.60,122.51h3.70 M425.40,122.51h-3.70 M57.60,120.90h3.70 M425.40,120.90h-3.70 M57.60,119.54h3.70 M425.40,119.54h-3.70 M57.60,118.37h3.70 M425.40,118.37h-3.70 M57.60,117.33h3.70 M425.40,117.33h-3.70 M57.60,116.40h7.00 M425.40,116.40h-7.00 M57.60,110.29h3.70 M425.40,110.29h-3.70 M57.60,106.71h3.70 M425.40,106.71h-3.70 M57.60,104.18h3.70 M425.40,104.18h-3.70 M57.60,102.21h3.70 M425.40,102.21h-3.70 M57.60,100.60h3.70 M425.40,100.60h-3.70 M57.60,99.24h3.70 M425.40,99.24h-3.70 M57.60,98.07h3.70 M425.40,98.07h-3.70 M57.60,97.03h3.70 M425.40,97.03h-3.70 M57.60,96.10h7.00 M425.40,96.10h-7.00 M57.60,89.99h3.70 M425.40,89.99h-3.70 M57.60,86.41h3.70 M425.40,86.41h-3.70 M57.60,83.88h3.70 M425.40,83.88h-3.70 M57.60,81.91h3.70 M425.40,81.91h-3.70 M57.60,80.30h3.70 M425.40,80.30h-3.70 M57.60,78.94h3.70 M425.40,78.94h-3.70 M57.60,77.77h3.70 M425.40,77.77h-3.70 M57.60,76.73h3.70 M425.40,76.73h-3.70 M57.60,75.80h7.00 M425.40,75.80h-7.00 M57.60,69.69h3.70 M425.40,69.69h-3.70 M57.60,66.11h3.70 M425.40,66.11h-3.70 M57.60,63.58h3.70 M425.40,63.58h-3.70 M57.60,61.61h3.70 M425.40,61.61h-3.70 M57.60,60.00h3.70 M425.40,60.00h-3.70 M57.60,58.64h3.70 M425.40,58.64h-3.70 M57.60,57.47h3.70 M425.40,57.47h-3.70 M57.60,56.43h3.70 M425.40,56.43h-3.70 M57.60,55.50h7.00 M425.40,55.50h-7.00 M57.60,49.39h3.70 M425.40,49.39h-3.70 M57.60,45.81h3.70 M425.40,45.81h-3.70 M57.60,43.28h3.70 M425.40,43.28h-3.70 M57.60,41.31h3.70 M425.40,41.31h-3.70 M57.60,39.70h3.70 M425.40,39.70h-3.70 M57.60,38.34h3.70 M425.40,38.34h-3.70 M57.60,37.17h3.70 M425.40,37.17h-3.70 M57.60,36.13h3.70 M425.40,36.13h-3.70 M57.60,35.20h7.00 M425.40,35.20h-7.00 M57.60,29.09h3.70 M425.40,29.09h-3.70 M57.60,25.51h3.70 M425.40,25.51h-3.70 M57.60,22.98h3.70 M425.40,22.98h-3.70 M57.60,21.01h3.70 M425.40,21.01h-3.70 M57.60,19.40h3.70 M425.40,19.40h-3.70 M57.60,18.04h3.70 M425.40,18.04h-3.70 M57.60,16.87h3.70 M425.40,16.87h-3.70 M57.60,15.83h3.70 M425.40,15.83h-3.70 M57.60,14.90h7.00 M425.40,14.90h-7.00 M57.60,8.79h3.70 M425.40,8.79h-3.70 M57.60,5.21h3.70 M425.40,5.21h-3.70 M57.60,2.68h3.70 M425.40,2.68h-3.70" stroke="#000" stroke-width="0.75" fill="none"/>
<path d="M57.60,0V258.58H425.40V0" fill="none" stroke="#000" stroke-width="1.05"/>
<path d="M57.10,0.8H425.90" fill="none" stroke="#000" stroke-width="0.6"/>
<text x="95.32" y="273.2" font-size="15.3" text-anchor="middle">0.05</text>
<text x="142.48" y="273.2" font-size="15.3" text-anchor="middle">0.1</text>
<text x="189.63" y="273.2" font-size="15.3" text-anchor="middle">0.15</text>
<text x="236.78" y="273.2" font-size="15.3" text-anchor="middle">0.2</text>
<text x="283.94" y="273.2" font-size="15.3" text-anchor="middle">0.25</text>
<text x="331.09" y="273.2" font-size="15.3" text-anchor="middle">0.3</text>
<text x="378.25" y="273.2" font-size="15.3" text-anchor="middle">0.35</text>
<text x="425.40" y="273.2" font-size="15.3" text-anchor="middle">0.4</text>
<text x="242.2" y="292" font-size="17" text-anchor="middle">v</text>
<text x="54.2" y="266.80" font-size="15.45" text-anchor="end">10<tspan font-size="10.1" dy="-9.1">-13</tspan></text>
<text x="54.2" y="246.50" font-size="15.45" text-anchor="end">10<tspan font-size="10.1" dy="-9.1">-12</tspan></text>
<text x="54.2" y="226.20" font-size="15.45" text-anchor="end">10<tspan font-size="10.1" dy="-9.1">-11</tspan></text>
<text x="54.2" y="205.90" font-size="15.45" text-anchor="end">10<tspan font-size="10.1" dy="-9.1">-10</tspan></text>
<text x="54.2" y="185.60" font-size="15.45" text-anchor="end">10<tspan font-size="10.1" dy="-9.1">-9</tspan></text>
<text x="54.2" y="165.30" font-size="15.45" text-anchor="end">10<tspan font-size="10.1" dy="-9.1">-8</tspan></text>
<text x="54.2" y="145.00" font-size="15.45" text-anchor="end">10<tspan font-size="10.1" dy="-9.1">-7</tspan></text>
<text x="54.2" y="124.70" font-size="15.45" text-anchor="end">10<tspan font-size="10.1" dy="-9.1">-6</tspan></text>
<text x="54.2" y="104.40" font-size="15.45" text-anchor="end">10<tspan font-size="10.1" dy="-9.1">-5</tspan></text>
<text x="54.2" y="84.10" font-size="15.45" text-anchor="end">10<tspan font-size="10.1" dy="-9.1">-4</tspan></text>
<text x="54.2" y="63.80" font-size="15.45" text-anchor="end">10<tspan font-size="10.1" dy="-9.1">-3</tspan></text>
<text x="54.2" y="43.50" font-size="15.45" text-anchor="end">10<tspan font-size="10.1" dy="-9.1">-2</tspan></text>
<text x="54.2" y="23.20" font-size="15.45" text-anchor="end">10<tspan font-size="10.1" dy="-9.1">-1</tspan></text>
<rect x="65.05" y="4.55" width="145.35" height="82.6" fill="#fff" stroke="#000" stroke-width="0.7"/>
<path d="M68.9,14.20H84.1" stroke="#0000ff" stroke-width="1.3"/>
<text x="91.7" y="18.40" font-size="14">T-flux 5.5PN (uncal)</text>
<path d="M68.9,29.80H84.1" stroke="#000" stroke-width="1.3"/>
<text x="91.7" y="34.26" font-size="14">P-flux 5.5PN (uncal)</text>
<path d="M68.9,45.40H84.1" stroke="#000" stroke-width="1.3" stroke-dasharray="8 3.3"/>
<text x="91.7" y="49.43" font-size="14">P-flux 6.5PN (cal)</text>
<path d="M68.9,61.10H84.1" stroke="#ff0000" stroke-width="1.3"/>
<text x="91.7" y="65.29" font-size="14">ρ-flux 5.5PN (uncal)</text>
<path d="M68.9,77.50H84.1" stroke="#ff0000" stroke-width="1.3" stroke-dasharray="8 3.3"/>
<text x="91.7" y="81.36" font-size="14">ρ-flux 6PN (cal)</text>
<g transform="translate(11.9,196) rotate(-90)" font-size="17.3">
<text x="-0.50" y="0">|</text>
<text x="2.50" y="0">F</text>
<text x="14.00" y="7.1" font-size="12.6">Teuk</text>
<text x="38.00" y="0">-</text>
<text x="44.00" y="0">F</text>
<text x="54.00" y="7.1" font-size="12.6">EOB</text>
<text x="79.00" y="0">|</text>
<text x="87.20" y="0">/</text>
<text x="96.70" y="0">F</text>
<text x="106.30" y="7.1" font-size="12.6">Newt</text>
</g>
</svg>
</body></html>
